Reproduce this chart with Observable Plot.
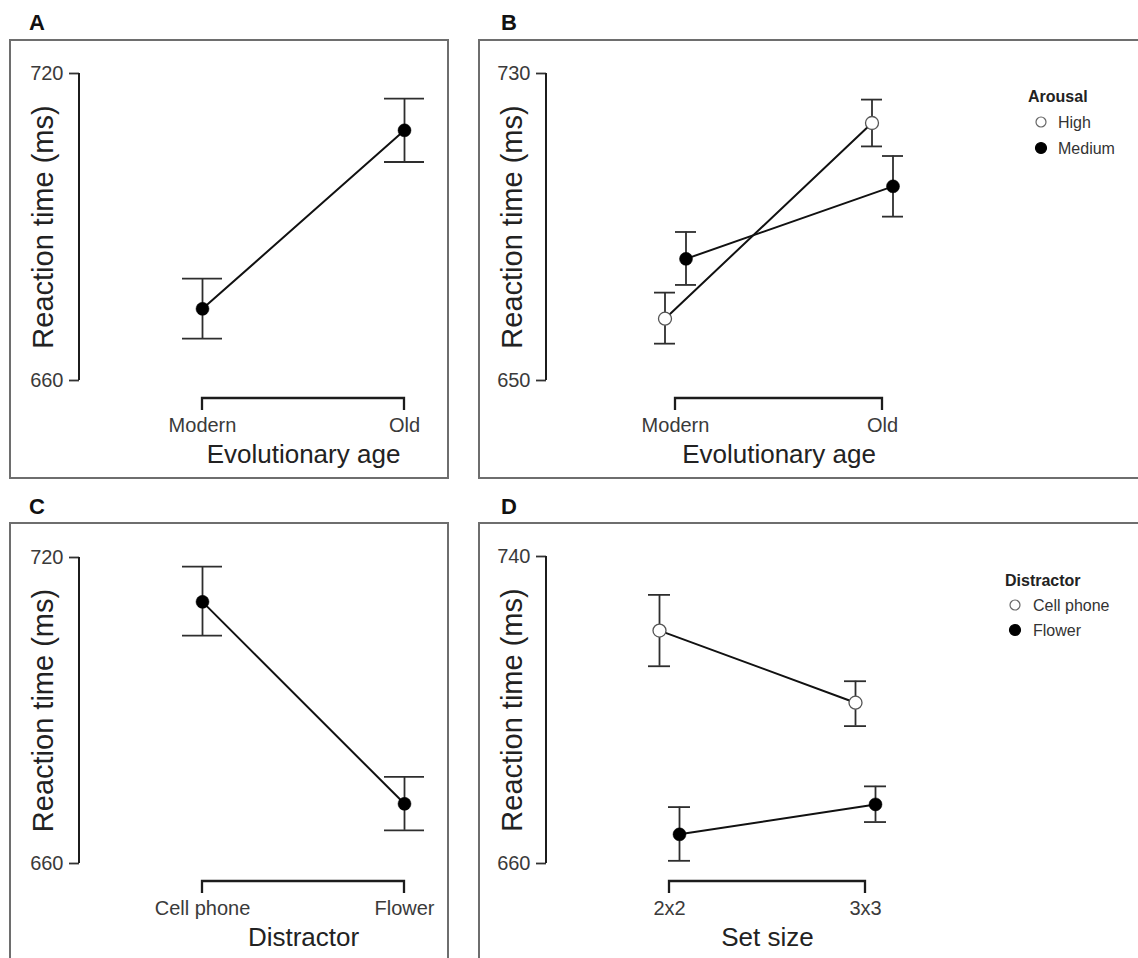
<!DOCTYPE html>
<html><head><meta charset="utf-8">
<script src="https://cdn.jsdelivr.net/npm/d3@7"></script>
<script src="https://cdn.jsdelivr.net/npm/@observablehq/plot@0.6"></script>
<style>
html,body{margin:0;padding:0;background:#fff;}
#page{position:relative;width:1138px;height:958px;overflow:hidden;font-family:"Liberation Sans",Arial,sans-serif;}
.box{position:absolute;border:2px solid #6e6e6e;overflow:hidden;background:#fff;box-sizing:border-box;}
.box svg{position:absolute;left:0;top:0;}
#overlay{position:absolute;left:0;top:0;pointer-events:none;}
</style></head><body><div id="page"></div>
<script>
// ---------- data ----------
const ageCats = ["Modern", "Old"];
const aMean = [674.0, 708.9];
const aLower = [668.2, 702.7];
const aUpper = [679.9, 715.1];
const aTicks = [660, 720];

const arousalLevels = ["High", "Medium"];
const bHighMean = [666.1, 717.1];
const bHighLower = [659.6, 711.0];
const bHighUpper = [672.9, 723.2];
const bMedMean = [681.7, 700.6];
const bMedLower = [674.9, 692.7];
const bMedUpper = [688.7, 708.5];
const bTicks = [650, 730];

const distractorCats = ["Cell phone", "Flower"];
const cMean = [711.3, 671.7];
const cLower = [704.7, 666.5];
const cUpper = [718.2, 677.0];
const cTicks = [660, 720];

const setSizeCats = ["2x2", "3x3"];
const distractorLevels = ["Cell phone", "Flower"];
const dPhoneMean = [720.7, 701.9];
const dPhoneLower = [711.4, 695.8];
const dPhoneUpper = [730.0, 707.5];
const dFlowerMean = [667.6, 675.4];
const dFlowerLower = [660.7, 670.8];
const dFlowerUpper = [674.7, 680.1];
const dTicks = [660, 740];

const yTitle = "Reaction time (ms)";

// ---------- helpers ----------
function rowsOf(cats, mean, lo, hi) {
  return cats.map((c, i) => ({i, cat: c, mean: mean[i], lo: lo[i], hi: hi[i]}));
}

function errorMarks(rows, dx, capHalf) {
  const bar = {stroke: "#2e2e2e", strokeWidth: 1.8};
  return [
    Plot.ruleX(rows, {x: "i", y1: "lo", y2: "hi", dx, ...bar}),
    Plot.ruleY(rows, {y: "lo", x1: "i", x2: "i", dx, insetLeft: -capHalf, insetRight: -capHalf, ...bar}),
    Plot.ruleY(rows, {y: "hi", x1: "i", x2: "i", dx, insetLeft: -capHalf, insetRight: -capHalf, ...bar})
  ];
}
function lineMark(rows, dx) {
  return Plot.line(rows, {x: "i", y: "mean", dx, stroke: "#111", strokeWidth: 2});
}
function dotMark(rows, dx, open) {
  return open
    ? Plot.dot(rows, {x: "i", y: "mean", dx, r: 6.5, fill: "#fff", stroke: "#555", strokeWidth: 1.3})
    : Plot.dot(rows, {x: "i", y: "mean", dx, r: 6.5, fill: "#000", stroke: "#000", strokeWidth: 0.5});
}

function panel({cats, series, ticks, xTitle, L}) {
  const brackets = (index, scales, values, dims) => {
    const {x, y} = scales;
    const g = d3.create("svg:g").attr("fill", "none").attr("stroke", "#1c1c1c");
    const xl = dims.marginLeft;
    g.append("line").attr("stroke-width", 2)
      .attr("x1", xl).attr("x2", xl).attr("y1", y(ticks[0])).attr("y2", y(ticks[1]));
    const yb = y(ticks[0]) + L.gap;
    const xa = x(0), xb = x(cats.length - 1);
    g.append("path").attr("stroke-width", 2.3)
      .attr("d", `M${xa},${yb + L.tickLen}V${yb}H${xb}V${yb + L.tickLen}`);
    return g.node();
  };
  const marks = [
    Plot.axisY({ticks, tickSize: 10, tickPadding: 6, fontSize: 20, fill: "#3a3a3a", stroke: "#333", strokeWidth: 1.8, tickFormat: d => String(d), label: null}),
    Plot.axisX({ticks: d3.range(cats.length), tickFormat: i => cats[i], tickSize: 0, tickPadding: L.gap + 19, fontSize: 20, fill: "#3a3a3a", label: null}),
    brackets,
    Plot.text([yTitle], {y: (ticks[0] + ticks[1]) / 2, frameAnchor: "left", dx: L.yTitleX - L.marginLeft, rotate: -90, textAnchor: "middle", lineAnchor: "bottom", fontSize: 29, fill: "#222"}),
    Plot.text([xTitle], {x: (cats.length - 1) / 2, frameAnchor: "bottom", dy: L.xTitleY - (L.height - L.marginBottom), textAnchor: "middle", lineAnchor: "bottom", fontSize: 26, fill: "#222"})
  ];
  const rowsList = series.map(s => rowsOf(cats, s.mean, s.lo, s.hi));
  series.forEach((s, k) => marks.push(...errorMarks(rowsList[k], s.dx, L.capHalf)));
  series.forEach((s, k) => marks.push(lineMark(rowsList[k], s.dx)));
  series.forEach((s, k) => marks.push(dotMark(rowsList[k], s.dx, s.open)));
  return Plot.plot({
    width: L.width, height: L.height,
    marginLeft: L.marginLeft, marginRight: L.marginRight, marginTop: L.marginTop, marginBottom: L.marginBottom,
    x: {type: "linear", domain: [0, cats.length - 1], insetLeft: L.insetLeft, insetRight: L.insetRight},
    y: {type: "linear", domain: ticks, nice: false},
    style: {fontFamily: "'Liberation Sans', Arial, sans-serif", background: "transparent", overflow: "visible"},
    marks
  });
}

const page = document.getElementById("page");
function addBox(left, top, w, h, svg) {
  const div = document.createElement("div");
  div.className = "box";
  Object.assign(div.style, {left: left + "px", top: top + "px", width: w + "px", height: h + "px"});
  div.appendChild(svg);
  page.appendChild(div);
}

const base = {height: 436, marginTop: 32, marginBottom: 97, marginRight: 10, gap: 18, tickLen: 12, yTitleX: 41, xTitleY: 421};

// Panel A
addBox(9, 39, 440, 440, panel({
  cats: ageCats, ticks: aTicks, xTitle: "Evolutionary age",
  series: [{mean: aMean, lo: aLower, hi: aUpper, dx: 0, open: false}],
  L: {...base, width: 436, marginLeft: 68, insetLeft: 123, insetRight: 33, capHalf: 20}
}));

// Panel B
addBox(478, 39, 700, 440, panel({
  cats: ageCats, ticks: bTicks, xTitle: "Evolutionary age",
  series: [
    {mean: bHighMean, lo: bHighLower, hi: bHighUpper, dx: -10.5, open: true},
    {mean: bMedMean, lo: bMedLower, hi: bMedUpper, dx: 10.5, open: false}
  ],
  L: {...base, width: 696, marginLeft: 66, insetLeft: 129, insetRight: 284, capHalf: 10.5}
}));

// Panel C
addBox(9, 522, 440, 440, panel({
  cats: distractorCats, ticks: cTicks, xTitle: "Distractor",
  series: [{mean: cMean, lo: cLower, hi: cUpper, dx: 0, open: false}],
  L: {...base, marginTop: 33, width: 436, marginLeft: 68, insetLeft: 123, insetRight: 33, capHalf: 20}
}));

// Panel D
addBox(478, 522, 700, 440, panel({
  cats: setSizeCats, ticks: dTicks, xTitle: "Set size",
  series: [
    {mean: dPhoneMean, lo: dPhoneLower, hi: dPhoneUpper, dx: -10, open: true},
    {mean: dFlowerMean, lo: dFlowerLower, hi: dFlowerUpper, dx: 10, open: false}
  ],
  L: {...base, width: 696, marginLeft: 66, insetLeft: 123, insetRight: 301, capHalf: 11}
}));

// ---------- overlay: panel letters and legends ----------
const ov = d3.select(page).append("svg").attr("id", "overlay").attr("width", 1138).attr("height", 958)
  .style("font-family", "'Liberation Sans', Arial, sans-serif");
const letters = [["A", 29, 30], ["B", 501, 30], ["C", 29, 514], ["D", 501, 514]];
ov.selectAll("text.letter").data(letters).join("text").attr("class", "letter")
  .attr("x", d => d[0] === "A" || d[0] === "C" ? d[1] : d[1]).attr("y", d => d[2])
  .attr("font-size", 22).attr("font-weight", "bold").attr("fill", "#111").text(d => d[0]);

function legend(x0, yTitleBase, title, labels, cx, tx, y1, step) {
  const g = ov.append("g");
  g.append("text").attr("x", x0).attr("y", yTitleBase).attr("font-size", 16).attr("font-weight", "bold").attr("fill", "#222").text(title);
  labels.forEach((lab, k) => {
    const cy = y1 + k * step;
    g.append("circle").attr("cx", cx).attr("cy", cy).attr("r", k === 0 ? 5 : 5.5)
      .attr("fill", k === 0 ? "#fff" : "#000").attr("stroke", k === 0 ? "#666" : "#000").attr("stroke-width", 1.2);
    g.append("text").attr("x", tx).attr("y", cy).attr("dy", "0.35em").attr("font-size", 16).attr("fill", "#333").text(lab);
  });
}
legend(1028, 102, "Arousal", arousalLevels, 1041, 1058, 122, 26);
legend(1005, 586, "Distractor", distractorLevels, 1015, 1033, 605, 25);
</script></body></html>
